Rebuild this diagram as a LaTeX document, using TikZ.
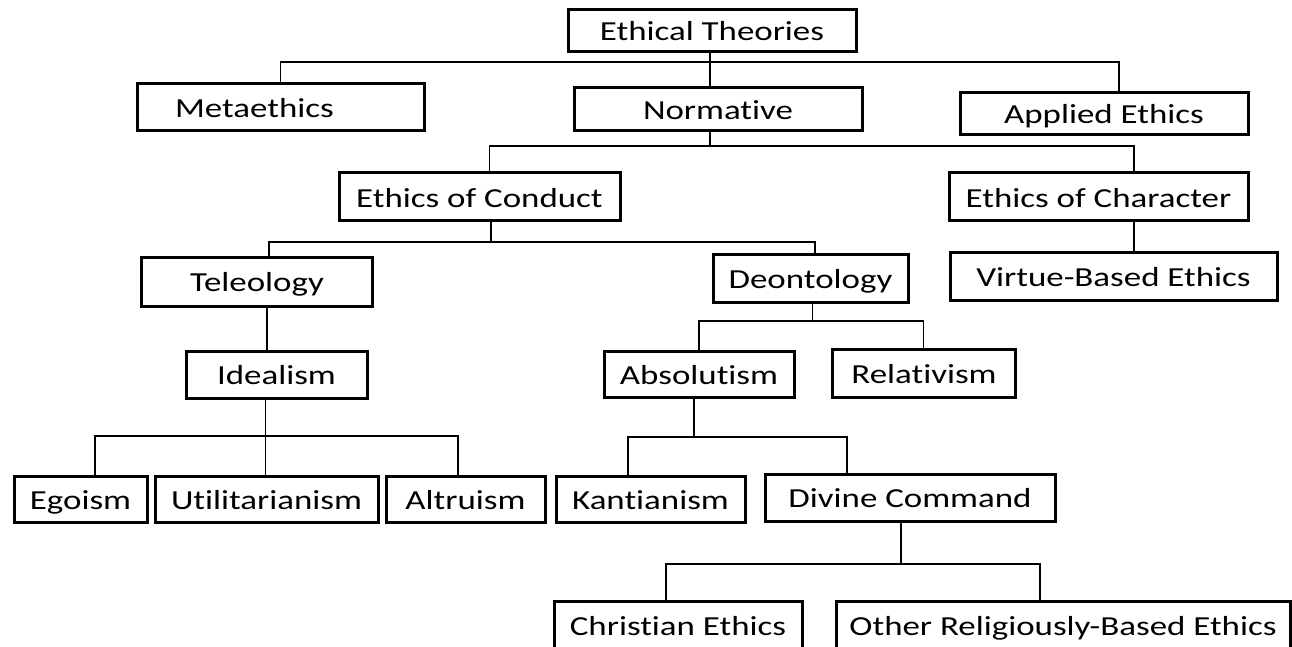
\documentclass[tikz,border=0pt]{standalone}
\usepackage{fontspec}
\setmainfont{Carlito}[FakeStretch=1.27, Ligatures=NoCommon]
\usetikzlibrary{positioning}

\begin{document}
\begin{tikzpicture}[
    x=0.5pt, y=-0.5pt,
    box/.style={rectangle, draw, line width=1.5pt, inner sep=0pt, text height=10.5pt, text depth=0.5pt, font=\fontsize{13.75}{16}\selectfont},
    link/.style={line width=0.6pt}
]
\useasboundingbox (0,0) rectangle (1292,647);

% Top level
\node[box, minimum width=144pt, minimum height=21pt] (theories) at (712,31) {Ethical Theories};
\node[box, minimum width=143.5pt, minimum height=23.5pt] (meta) at (280.5,107.5) {Metaethics\hspace*{26pt}};
\node[box, minimum width=144pt, minimum height=21.5pt] (norm) at (718,109.5) {Normative};
\node[box, minimum width=144pt, minimum height=21pt] (applied) at (1104,114) {Applied Ethics};

% Normative branches
\node[box, minimum width=140.5pt, minimum height=24pt] (conduct) at (479.5,197) {Ethics of Conduct};
\node[box, minimum width=149.5pt, minimum height=24pt] (character) at (1098.5,197) {Ethics of Character};
\node[box, minimum width=115.5pt, minimum height=24pt] (teleo) at (257,282) {Teleology};
\node[box, minimum width=97.5pt, minimum height=23.5pt] (deonto) at (810.5,278.5) {Deontology};
\node[box, minimum width=163.5pt, minimum height=23.5pt] (virtue) at (1113.5,276.5) {Virtue-Based Ethics};

% Third level
\node[box, minimum width=90.5pt, minimum height=23.5pt] (ideal) at (276.5,374.5) {Idealism};
\node[box, minimum width=95pt, minimum height=23pt] (absol) at (699,374) {Absolutism};
\node[box, minimum width=91.5pt, minimum height=24pt] (relat) at (924,373) {Relativism};

% Fourth level
\node[box, minimum width=66.5pt, minimum height=23pt] (egoism) at (80.5,499) {Egoism};
\node[box, minimum width=111.5pt, minimum height=23pt] (util) at (266.5,499) {Utilitarianism};
\node[box, minimum width=79.5pt, minimum height=23pt] (altru) at (465.5,499) {Altruism};
\node[box, minimum width=94.5pt, minimum height=23pt] (kant) at (650.5,499) {Kantianism};
\node[box, minimum width=145pt, minimum height=23.5pt] (divine) at (910,497.5) {Divine Command};

% Bottom level
\node[box, minimum width=124pt, minimum height=24pt] (christ) at (678,625) {Christian Ethics};
\node[box, minimum width=227pt, minimum height=24pt] (other) at (1063,625) {Other Religiously-Based Ethics};

% Ethical Theories
\draw[link] (theories.south -| 710,0) -- (norm.north -| 710,0);
\draw[link] (meta.north) |- (1119,62) -- (applied.north -| 1119,0);

% Normative
\draw[link] (norm.south -| 710,0) -- (710,146);
\draw[link] (conduct.north -| 489.5,0) |- (1134,146) -- (character.north -| 1134,0);
\draw[link] (character.south -| 1134,0) -- (virtue.north -| 1134,0);

% Ethics of Conduct
\draw[link] (conduct.south -| 491,0) -- (491,242);
\draw[link] (teleo.north -| 269,0) |- (815,242) -- (deonto.north -| 815,0);
\draw[link] (teleo.south -| 267,0) -- (ideal.north -| 267,0);

% Deontology
\draw[link] (deonto.south -| 812.5,0) -- (812.5,321);
\draw[link] (absol.north -| 699,0) |- (923.6,321) -- (relat.north -| 923.6,0);

% Idealism
\draw[link] (ideal.south -| 265.5,0) -- (util.north -| 265.5,0);
\draw[link] (egoism.north -| 95,0) |- (458,436) -- (altru.north -| 458,0);

% Absolutism
\draw[link] (absol.south -| 694,0) -- (694,437);
\draw[link] (kant.north -| 628,0) |- (847,437) -- (divine.north -| 847,0);

% Divine Command
\draw[link] (divine.south -| 901,0) -- (901,564);
\draw[link] (christ.north -| 666,0) |- (1040,564) -- (other.north -| 1040,0);

\end{tikzpicture}
\end{document}
